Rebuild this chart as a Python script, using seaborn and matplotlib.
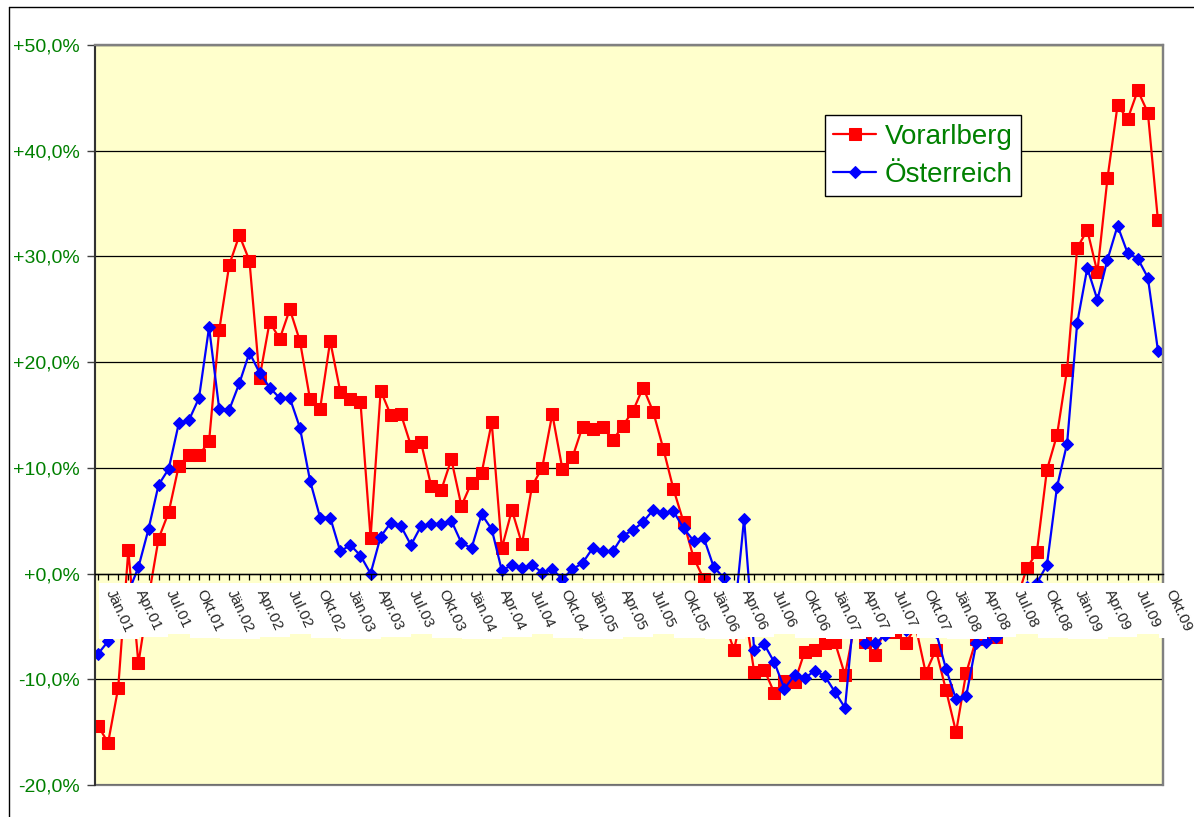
import matplotlib
matplotlib.use("Agg")
import matplotlib.pyplot as plt
from matplotlib.patches import Rectangle
from matplotlib.lines import Line2D
from matplotlib.transforms import ScaledTranslation, IdentityTransform
import numpy as np
import pandas as pd
import seaborn as sns

# ---------------- data ----------------
series_names = ["Vorarlberg", "Österreich"]
months = ["Jän", "Apr", "Jul", "Okt"]

vorarlberg = [
    -14.4, -16.0, -10.8, 2.2, -8.5, -2.3, 3.3, 5.8, 10.2, 11.2, 11.2, 12.5,
    23.0, 29.2, 32.0, 29.6, 18.5, 23.8, 22.2, 25.0, 22.0, 16.5, 15.6, 22.0,
    17.2, 16.5, 16.2, 3.4, 17.3, 15.0, 15.1, 12.1, 12.4, 8.3, 7.9, 10.8,
    6.4, 8.6, 9.5, 14.3, 2.4, 6.0, 2.8, 8.3, 10.0, 15.1, 9.9, 11.0,
    13.9, 13.7, 13.9, 12.6, 14.0, 15.4, 17.6, 15.3, 11.8, 8.0, 4.9, 1.5,
    -0.5, -2.5, -4.5, -7.2, -3.0, -9.3, -9.1, -11.3, -10.2, -10.3, -7.4, -7.2,
    -6.6, -6.5, -9.6, -4.6, -6.5, -7.7, -5.0, -5.5, -6.6, -5.0, -9.4, -7.2,
    -11.0, -15.0, -9.4, -6.2, -5.8, -6.0, -4.0, -2.5, 0.5, 2.0, 9.8, 13.1,
    19.3, 30.8, 32.5, 28.5, 37.4, 44.3, 43.0, 45.7, 43.6, 33.4,
]

oesterreich = [
    -7.6, -6.4, -4.5, -1.8, 0.6, 4.2, 8.4, 9.9, 14.2, 14.5, 16.6, 23.3,
    15.6, 15.5, 18.0, 20.9, 19.0, 17.6, 16.6, 16.6, 13.8, 8.8, 5.3, 5.3,
    2.1, 2.7, 1.7, 0.0, 3.5, 4.8, 4.5, 2.7, 4.5, 4.7, 4.7, 5.0,
    2.9, 2.4, 5.6, 4.2, 0.3, 0.8, 0.5, 0.8, 0.1, 0.4, -0.5, 0.4,
    1.0, 2.4, 2.1, 2.1, 3.6, 4.1, 4.9, 6.0, 5.7, 5.9, 4.3, 3.1,
    3.4, 0.6, -0.4, -4.5, 5.2, -7.2, -6.7, -8.4, -10.9, -9.6, -9.9, -9.2,
    -9.7, -11.2, -12.7, -2.6, -6.6, -6.6, -5.8, -5.0, -5.3, -4.5, -5.0, -5.5,
    -9.0, -11.9, -11.6, -6.6, -6.5, -6.0, -4.0, -3.0, -1.3, -0.9, 0.8, 8.2,
    12.3, 23.7, 28.9, 25.9, 29.7, 32.9, 30.3, 29.8, 28.0, 21.1,
]

n = len(vorarlberg)
idx = np.arange(n)
tick_labels = [f"{months[(i // 3) % 4]}.{1 + i // 12:02d}" if i % 3 == 0 else "" for i in idx]
y_ticks = [-20, -10, 0, 10, 20, 30, 40, 50]

# ---------------- style ----------------
sns.set_style("white")
plt.rcParams["font.family"] = ["Liberation Sans", "DejaVu Sans"]

W, H = 1194, 817
fig = plt.figure(figsize=(W / 100, H / 100), dpi=100)
ax = fig.add_axes([95 / W, 1 - 785 / H, (1163 - 95) / W, (785 - 45) / H])
ax.set_facecolor("#FFFFCC")

df = pd.DataFrame({"idx": idx, series_names[0]: vorarlberg, series_names[1]: oesterreich})

sns.lineplot(data=df, x="idx", y=series_names[0], ax=ax, color="#FF0000",
             marker="s", markersize=8, markeredgecolor="#FF0000",
             linewidth=1.6, label=series_names[0], zorder=2)
sns.lineplot(data=df, x="idx", y=series_names[1], ax=ax, color="#0000FF",
             marker="D", markersize=6.5, markeredgecolor="#0000FF",
             linewidth=1.6, label=series_names[1], zorder=2.1)

ax.set_xlim(-0.3, n - 1 + 0.5)
ax.set_ylim(-20, 50)
ax.set_xlabel("")
ax.set_ylabel("")

ax.set_yticks(y_ticks)
ax.set_yticklabels([f"{v:+.1f}%".replace(".", ",") for v in y_ticks])
ax.set_xticks(idx)
ax.set_xticklabels(tick_labels)

ax.yaxis.grid(True, color="black", linewidth=0.9)
ax.xaxis.grid(False)
ax.set_axisbelow(True)
ax.xaxis.set_zorder(3)

ax.tick_params(axis="y", direction="out", length=6, width=1, color="#404040",
               labelcolor="#008000", labelsize=14, pad=5, left=True)
ax.tick_params(axis="x", direction="out", length=4, width=0.9, color="black",
               labelsize=11, pad=6, bottom=True)

ax.spines["bottom"].set_position(("data", 0))
ax.spines["bottom"].set_color("black")
ax.spines["bottom"].set_linewidth(1.0)
ax.spines["left"].set_color("#303030")
ax.spines["left"].set_linewidth(1.4)
for s in ["top", "right"]:
    ax.spines[s].set_visible(True)
    ax.spines[s].set_color("#808080")
    ax.spines[s].set_linewidth(1.6)
ax.add_patch(Rectangle((0, 0), 1, 1, transform=ax.transAxes, fill=False,
                       edgecolor="#808080", linewidth=1.6, zorder=0.4, clip_on=False))

offset = ScaledTranslation(3.5 / 72, 0, fig.dpi_scale_trans)
for lab in ax.get_xticklabels():
    lab.set_rotation(-65)
    lab.set_ha("left")
    lab.set_va("top")
    lab.set_transform(lab.get_transform() + offset)

# legend
handles, labels = ax.get_legend_handles_labels()
leg = ax.legend(handles, labels, loc="upper left", bbox_to_anchor=(0.6835, 0.905),
                borderaxespad=0, frameon=True, fancybox=False, edgecolor="black",
                framealpha=1, fontsize=20, handlelength=1.55, borderpad=0.3,
                labelspacing=0.45, handletextpad=0.3)
leg.get_frame().set_linewidth(1.0)
for t in leg.get_texts():
    t.set_color("#008000")
leg.set_zorder(5)

# outer frame (left and top edges visible)
fig.add_artist(Line2D([9 / W, 9 / W], [0, 1 - 7 / H], color="black", linewidth=1.0))
fig.add_artist(Line2D([9 / W, 1], [1 - 7 / H, 1 - 7 / H], color="black", linewidth=1.0))

# white axis-aligned boxes behind the category labels (Excel style)
fig.canvas.draw()
renderer = fig.canvas.get_renderer()
for lab in ax.get_xticklabels():
    if lab.get_text():
        bb = lab.get_window_extent(renderer)
        ax.add_patch(Rectangle((bb.x0 - 4, bb.y0 - 4), bb.width + 8, bb.height + 8,
                               transform=IdentityTransform(), facecolor="white",
                               edgecolor="none", zorder=2.8, clip_on=False))

fig.savefig("out.png", dpi=100)
